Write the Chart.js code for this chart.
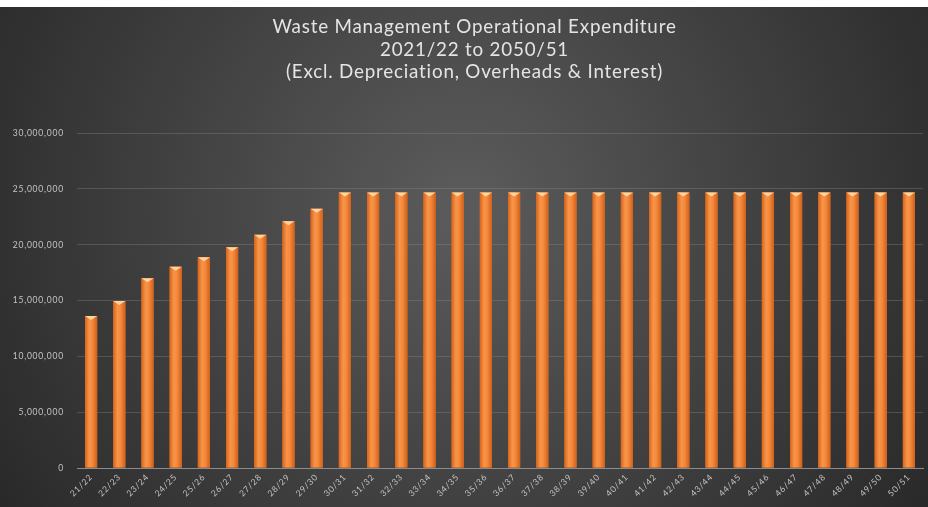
<!DOCTYPE html>
<html>
<head>
<meta charset="utf-8">
<script src="https://cdn.jsdelivr.net/npm/chart.js@4"></script>
<style>
  html, body { margin: 0; padding: 0; background: #ffffff; }
  #wrap { position: absolute; left: 0; top: 7px; width: 928px; height: 500px; }
</style>
</head>
<body>
<div id="wrap"><canvas id="opexChart" width="928" height="500"></canvas></div>
<script>
// ── Dados: gasto operacional anual (2021/22 a 2050/51) ──
const years = [
  '21/22', '22/23', '23/24', '24/25', '25/26', '26/27', '27/28', '28/29', '29/30', '30/31',
  '31/32', '32/33', '33/34', '34/35', '35/36', '36/37', '37/38', '38/39', '39/40', '40/41',
  '41/42', '42/43', '43/44', '44/45', '45/46', '46/47', '47/48', '48/49', '49/50', '50/51'
];
const expenditure = [
  13620000, 14960000, 17000000, 18040000, 18890000, 19780000, 20890000, 22120000, 23220000, 24690000,
  24690000, 24690000, 24690000, 24690000, 24690000, 24690000, 24690000, 24690000, 24690000, 24690000,
  24690000, 24690000, 24690000, 24690000, 24690000, 24690000, 24690000, 24690000, 24690000, 24690000
];
const yTicks = [0, 5000000, 10000000, 15000000, 20000000, 25000000, 30000000];
const titleLines = [
  'Waste Management Operational Expenditure',
  '2021/22 to 2050/51',
  '(Excl. Depreciation, Overheads & Interest)'
];

// ── Fundo escuro com gradiente radial ──
const bgPlugin = {
  id: 'bgPlugin',
  beforeDraw(chart) {
    const { ctx, width, height } = chart;
    const g = ctx.createRadialGradient(width * 0.5, height * 0.4, 20, width * 0.5, height * 0.4, width * 0.62);
    g.addColorStop(0, '#5a5a5a');
    g.addColorStop(1, '#272727');
    ctx.save();
    ctx.fillStyle = g;
    ctx.fillRect(0, 0, width, height);
    ctx.restore();
  }
};

// ── Efeito de bisel nas barras ──
const bevelPlugin = {
  id: 'bevelPlugin',
  afterDatasetsDraw(chart) {
    const { ctx } = chart;
    const meta = chart.getDatasetMeta(0);
    ctx.save();
    meta.data.forEach(bar => {
      const { x, y, base, width } = bar.getProps(['x', 'y', 'base', 'width'], true);
      const l = x - width / 2, r = x + width / 2;
      const g = ctx.createLinearGradient(l, 0, r, 0);
      g.addColorStop(0, '#d8641a');
      g.addColorStop(0.35, '#f7954a');
      g.addColorStop(0.6, '#f58a3c');
      g.addColorStop(1, '#d0601a');
      ctx.fillStyle = g;
      ctx.fillRect(l, y, width, base - y);
      // tampa clara no topo
      ctx.fillStyle = 'rgba(255,220,170,0.9)';
      ctx.beginPath();
      ctx.moveTo(l, y);
      ctx.lineTo(r, y);
      ctx.lineTo(x, y + 4);
      ctx.closePath();
      ctx.fill();
    });
    ctx.restore();
  }
};

// espaçamento entre letras + título um pouco à direita, como no original
const spacingPlugin = {
  id: 'spacingPlugin',
  beforeInit(chart) { chart.ctx.letterSpacing = '0.8px'; },
  beforeDraw(chart) { chart.ctx.letterSpacing = '0.8px'; },
  afterLayout(chart) {
    const t = chart.titleBlock;
    if (t) { t.left += 13; t.right += 13; }
  }
};

new Chart(document.getElementById('opexChart'), {
  type: 'bar',
  data: {
    labels: years,
    datasets: [{
      label: 'Operational Expenditure',
      data: expenditure,
      backgroundColor: '#ee7b2a',
      barPercentage: 0.43,
      categoryPercentage: 1.0
    }]
  },
  options: {
    responsive: false,
    animation: false,
    layout: { padding: { left: 0, right: 5, top: 0, bottom: 0 } },
    plugins: {
      legend: { display: false },
      tooltip: { enabled: false },
      title: {
        display: true,
        text: titleLines,
        color: '#e4e4e4',
        font: { family: 'Lato', size: 18.8, weight: 'normal', lineHeight: 1.2 },
        padding: { top: 9, bottom: 49.5 }
      }
    },
    scales: {
      x: {
        grid: { display: false, drawTicks: false },
        border: { color: '#8c8c8c', width: 1 },
        ticks: {
          color: '#c4c4c4',
          font: { family: 'Lato', size: 8.5 },
          minRotation: 45,
          maxRotation: 45,
          autoSkip: false,
          padding: 4
        },
        afterFit: s => { s.height = 39; }
      },
      y: {
        min: 0,
        max: 30000000,
        afterBuildTicks: s => { s.ticks = yTicks.map(v => ({ value: v })); },
        grid: { color: 'rgba(140,140,140,0.35)', drawTicks: false },
        border: { display: false },
        ticks: {
          color: '#c4c4c4',
          font: { family: 'Lato', size: 8.5 },
          padding: 13,
          callback: v => v.toLocaleString('en-US')
        },
        afterFit: s => { s.width = 77; }
      }
    }
  },
  plugins: [spacingPlugin, bgPlugin, bevelPlugin]
});
</script>
</body>
</html>
